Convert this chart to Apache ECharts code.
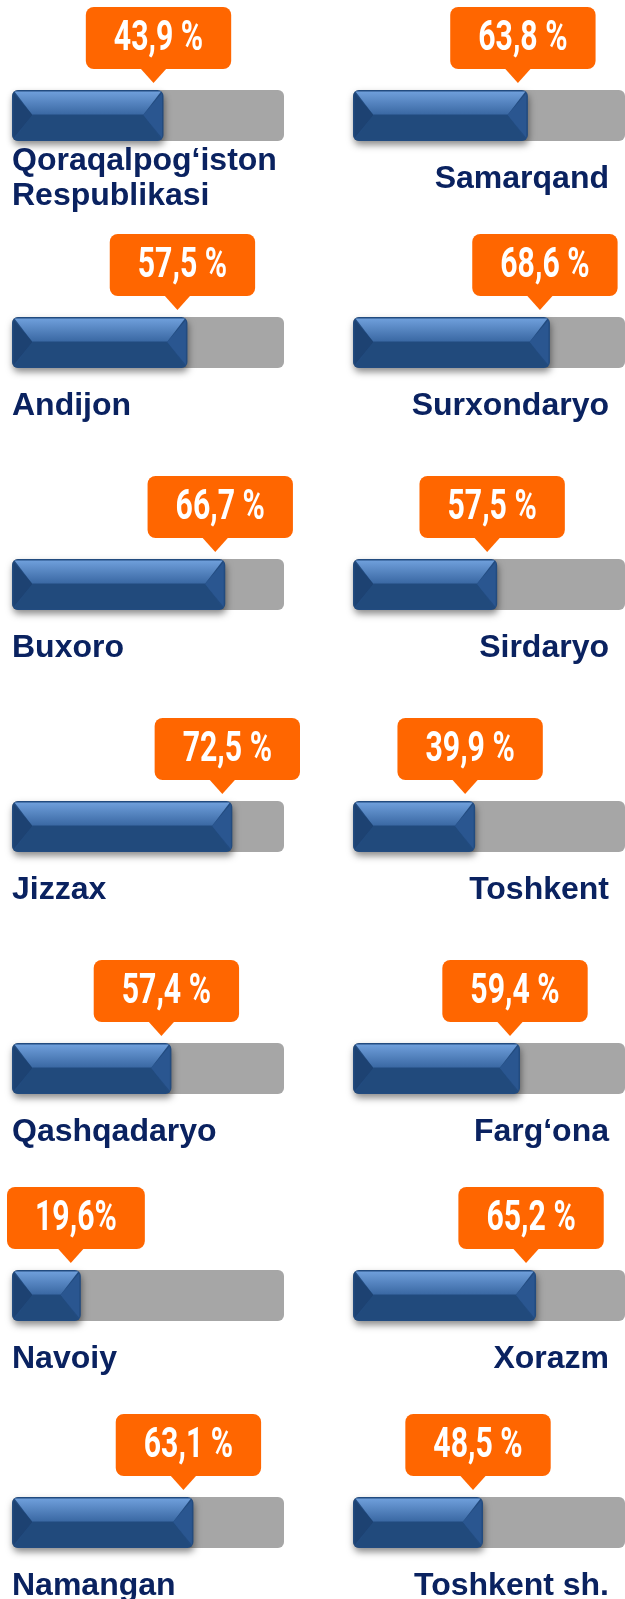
<!DOCTYPE html>
<html>
<head>
<meta charset="utf-8">
<script src="https://cdn.jsdelivr.net/npm/echarts@6/dist/echarts.min.js"></script>
<style>
  html, body { margin: 0; padding: 0; background: #fff; }
  #chart { width: 625px; height: 1599px; }
</style>
</head>
<body>
<div id="chart"></div>
<script>
// left column, top to bottom
const leftNames = ['Qoraqalpog‘iston\nRespublikasi', 'Andijon', 'Buxoro', 'Jizzax', 'Qashqadaryo', 'Navoiy', 'Namangan']
const leftShare = [43.9, 57.5, 66.7, 72.5, 57.4, 19.6, 63.1]
// bar length as it is drawn in the picture, % of the grey track
const leftFill = [55.7, 64.5, 78.4, 81.0, 58.6, 25.3, 66.7]

// right column, top to bottom
const rightNames = ['Samarqand', 'Surxondaryo', 'Sirdaryo', 'Toshkent', 'Farg‘ona', 'Xorazm', 'Toshkent sh.']
const rightShare = [63.8, 68.6, 57.5, 39.9, 59.4, 65.2, 48.5]
const rightFill = [64.3, 72.4, 53.0, 44.9, 61.4, 67.3, 47.8]

const trackMax = 100

// layout
const rowTops = [90, 317, 559, 801, 1043, 1270, 1497]
const trackH = 51
const trackW = 272
const columns = [
  { left: 12, names: leftNames, share: leftShare, fill: leftFill, align: 'left' },
  { left: 353, names: rightNames, share: rightShare, fill: rightFill, align: 'right' }
]

const valueFont = 'bold 42px Roboto'
const squeeze = 0.72
const measureCtx = document.createElement('canvas').getContext('2d')
measureCtx.font = valueFont

function fmt(v) {
  // the picture writes the small Navoiy value without the space
  return v.toFixed(1).replace('.', ',') + (v < 20 ? '%' : ' %')
}

function makeRender(col, row) {
  return function (params, api) {
    const start = api.coord([0, 0])
    const end = api.coord([api.value(0), 0])
    const full = api.coord([trackMax, 0])
    const h = api.size([0, 1])[1]
    const y0 = start[1] - h / 2
    const y1 = y0 + h
    const x0 = start[0]
    const x1 = end[0]
    const d = 20
    const mid = y0 + h * 0.5

    const label = fmt(col.share[row])
    const tw = measureCtx.measureText(label).width * squeeze
    const boxW = tw + 56
    const tipX = x1 - 10
    let boxL = tipX + 5 - boxW / 2
    boxL = Math.max(7, Math.min(boxL, 618 - boxW))

    const nameX = col.align === 'left' ? x0 : 609

    return {
      type: 'group',
      children: [
        {
          type: 'rect',
          shape: { x: x0, y: y0, width: full[0] - x0, height: h, r: 6 },
          style: { fill: '#a6a6a6' }
        },
        {
          type: 'rect',
          shape: { x: x0, y: y0, width: x1 - x0, height: h, r: 6 },
          style: {
            fill: '#224b7f',
            shadowBlur: 7,
            shadowOffsetY: 4,
            shadowOffsetX: 1,
            shadowColor: 'rgba(0,0,0,0.45)'
          }
        },
        {
          type: 'polygon',
          shape: { points: [[x0 + 2.5, y0 + 1.5], [x1 - 2.5, y0 + 1.5], [x1 - d, mid - 1], [x0 + d, mid - 1]] },
          style: {
            fill: new echarts.graphic.LinearGradient(0, 0, 0, 1, [
              { offset: 0, color: '#6f9fdb' },
              { offset: 1, color: '#3a68a3' }
            ])
          }
        },
        {
          type: 'polygon',
          shape: { points: [[x0 + 1.5, y0 + 3], [x0 + d, mid - 1], [x0 + d, mid], [x0 + 1.5, y1 - 3]] },
          style: { fill: '#1d4272' }
        },
        {
          type: 'polygon',
          shape: { points: [[x1 - 1.5, y0 + 3], [x1 - d, mid - 1], [x1 - d, mid], [x1 - 1.5, y1 - 3]] },
          style: { fill: '#2a5690' }
        },
        {
          type: 'polygon',
          shape: { points: [[x0 + d, mid], [x1 - d, mid], [x1 - 3, y1 - 1.5], [x0 + 3, y1 - 1.5]] },
          style: { fill: '#214a7c' }
        },
        {
          type: 'rect',
          shape: { x: boxL, y: y0 - 83, width: boxW, height: 62, r: 8 },
          style: { fill: '#ff6600' }
        },
        {
          type: 'polygon',
          shape: { points: [[tipX - 13, y0 - 21.5], [tipX + 13, y0 - 21.5], [tipX, y0 - 7]] },
          style: { fill: '#ff6600' }
        },
        {
          type: 'text',
          x: boxL + boxW / 2,
          y: y0 - 51,
          scaleX: squeeze,
          style: {
            text: label,
            fill: '#ffffff',
            font: valueFont,
            align: 'center',
            verticalAlign: 'middle'
          }
        },
        {
          type: 'text',
          x: nameX,
          y: y0 + 89,
          style: {
            text: col.names[row],
            fill: '#0a2260',
            font: 'bold 32px "Liberation Sans", Arial, sans-serif',
            lineHeight: 35,
            align: col.align,
            verticalAlign: 'middle'
          }
        }
      ]
    }
  }
}

const grid = []
const xAxis = []
const yAxis = []
const series = []
columns.forEach(function (col) {
  rowTops.forEach(function (top, row) {
    const k = grid.length
    grid.push({ left: col.left, top: top, width: trackW, height: trackH })
    xAxis.push({ gridIndex: k, type: 'value', min: 0, max: trackMax, show: false })
    yAxis.push({ gridIndex: k, type: 'category', data: [col.names[row]], show: false })
    series.push({
      type: 'custom',
      xAxisIndex: k,
      yAxisIndex: k,
      clip: false,
      renderItem: makeRender(col, row),
      data: [[col.fill[row], 0]]
    })
  })
})

const chart = echarts.init(document.getElementById('chart'))
chart.setOption({
  animation: false,
  backgroundColor: '#ffffff',
  grid: grid,
  xAxis: xAxis,
  yAxis: yAxis,
  series: series
})
</script>
</body>
</html>
